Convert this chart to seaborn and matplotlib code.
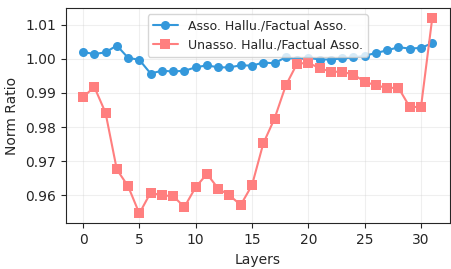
import numpy as np
import pandas as pd
import matplotlib
matplotlib.use("Agg")
import matplotlib.pyplot as plt
import seaborn as sns

layers = list(range(32))
asso = [1.0020, 1.0014, 1.0019, 1.0039, 1.0003, 0.9997, 0.9957, 0.9965,
        0.9963, 0.9965, 0.9975, 0.9981, 0.9975, 0.9975, 0.9981, 0.9980,
        0.9989, 0.9987, 1.0005, 0.9998, 1.0003, 0.9998, 0.9998, 1.0001,
        1.0004, 1.0009, 1.0017, 1.0025, 1.0034, 1.0030, 1.0032, 1.0046]
unasso = [0.9887, 0.9918, 0.9842, 0.9676, 0.9627, 0.9547, 0.9608, 0.9600,
          0.9598, 0.9566, 0.9624, 0.9663, 0.9620, 0.9600, 0.9572, 0.9630,
          0.9752, 0.9825, 0.9922, 0.9986, 0.9988, 0.9973, 0.9962, 0.9962,
          0.9954, 0.9933, 0.9922, 0.9915, 0.9915, 0.9859, 0.9859, 1.0120]
labels = ["Asso. Hallu./Factual Asso.", "Unasso. Hallu./Factual Asso."]

df = pd.DataFrame({
    "Layers": layers * 2,
    "ratio": asso + unasso,
    "series": [labels[0]] * 32 + [labels[1]] * 32,
})

sns.set_style("ticks")
plt.rcParams["font.family"] = ["DejaVu Sans"]
fig, ax = plt.subplots(figsize=(4.52, 2.69), dpi=100)
sns.lineplot(data=df, x="Layers", y="ratio", hue="series", style="series",
             palette=["#3498db", "#ff7f7f"], markers=["o", "s"], dashes=False,
             markersize=6.5, markeredgewidth=0, linewidth=1.5, ax=ax)
ax.grid(True, alpha=0.3)
ax.set_ylabel("Norm Ratio")
ax.set_xlabel("Layers")
ax.set_yticks([0.96, 0.97, 0.98, 0.99, 1.00, 1.01])
leg = ax.legend(loc="upper center", title=None, fontsize=9)
for h in leg.legend_handles:
    h.set_markersize(6.5)
    h.set_markeredgewidth(0)
    h.set_linewidth(1.5)
fig.subplots_adjust(left=0.145, right=0.995, top=0.97, bottom=0.17)
fig.savefig("out.png", dpi=100)
